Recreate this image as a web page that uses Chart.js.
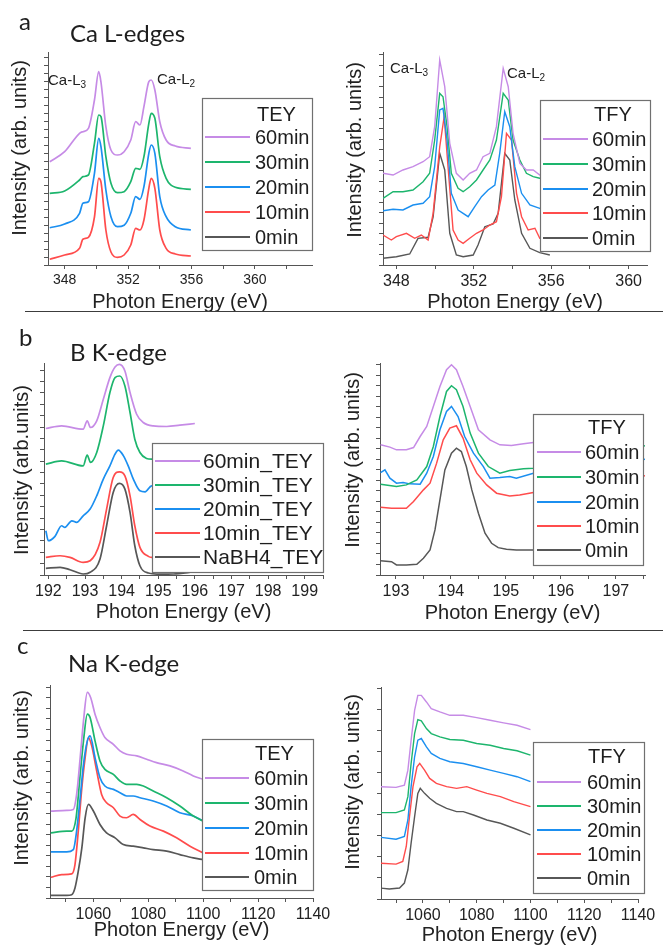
<!DOCTYPE html>
<html>
<head>
<meta charset="utf-8">
<script src="https://cdn.jsdelivr.net/npm/chart.js@4.4.1/dist/chart.umd.min.js"></script>
<style>
  html, body { margin: 0; padding: 0; background: #fff; }
  #page { position: relative; width: 663px; height: 949px; overflow: hidden; background: #fff; }
  canvas.panel { position: absolute; left: 0; top: 0; }
  .lbl { position: absolute; font-family: Lato, "Open Sans", sans-serif; color: #1e1e1e; white-space: nowrap; }
  .ann { position: absolute; font-family: "Liberation Sans", Arial, sans-serif; font-size: 15px; line-height: 18px; color: #222; white-space: nowrap; }
  .ann sub { font-size: 10px; vertical-align: -3px; line-height: 0; }
  .sep { position: absolute; height: 0; border-top: 1.5px solid #3c3c3c; }
</style>
</head>
<body>
<div id="page">
  <canvas class="panel" id="cA1" width="663" height="949"></canvas>
  <canvas class="panel" id="cA2" width="663" height="949"></canvas>
  <canvas class="panel" id="cB1" width="663" height="949"></canvas>
  <canvas class="panel" id="cB2" width="663" height="949"></canvas>
  <canvas class="panel" id="cC1" width="663" height="949"></canvas>
  <canvas class="panel" id="cC2" width="663" height="949"></canvas>

  <div class="lbl" style="left:19px; top:6px; font-size:24px; line-height:30px;">a</div>
  <div class="lbl" style="left:70px; top:18px; font-size:24px; line-height:30px;">Ca L-edges</div>
  <div class="lbl" style="left:19px; top:322px; font-size:24px; line-height:30px;">b</div>
  <div class="lbl" style="left:70px; top:337px; font-size:24px; line-height:30px;">B K-edge</div>
  <div class="lbl" style="left:17px; top:630px; font-size:24px; line-height:30px;">c</div>
  <div class="lbl" style="left:68px; top:648px; font-size:24px; line-height:30px;">Na K-edge</div>

  <div class="ann" style="left:48px; top:71px;">Ca-L<sub>3</sub></div>
  <div class="ann" style="left:157px; top:70px;">Ca-L<sub>2</sub></div>
  <div class="ann" style="left:390px; top:59px;">Ca-L<sub>3</sub></div>
  <div class="ann" style="left:507px; top:64px;">Ca-L<sub>2</sub></div>

  <div class="sep" style="left:25px; width:638px; top:311px;"></div>
  <div class="sep" style="left:23px; width:640px; top:630px;"></div>
</div>
<script>
// ---------------- DATA ----------------
// Panel a, Ca L-edges, TEY (x: photon energy eV, y: intensity, arb. units)
const caTEY_x = [347.06, 348.0, 348.94, 349.15, 349.5, 349.88, 350.15, 350.29, 350.6, 350.92, 351.33, 351.75, 352.17, 352.48, 352.75, 353.0, 353.31, 353.46, 353.69, 354.0, 354.4, 354.98, 355.96];
const caTEY_60min = [103.3, 113.3, 131.7, 133.3, 136.7, 165, 193.3, 183, 138.3, 115, 110, 113.3, 125, 143.3, 140, 158.3, 183.3, 185, 175, 143.3, 125, 119, 116.7];
const caTEY_30min = [71.7, 74, 85, 88.3, 90, 121.7, 150, 148.3, 108.3, 81.7, 72.3, 73.3, 83.3, 96.7, 95.7, 108.3, 141.7, 151.7, 146.7, 108.3, 86.7, 77.7, 75.7];
const caTEY_20min = [37.3, 41, 51.7, 61.7, 63.3, 91.7, 126.7, 118.3, 75, 48.3, 38.3, 39.7, 51.7, 68.3, 65.7, 78.3, 111.7, 120, 111.7, 68.3, 48.3, 38.3, 35];
const caTEY_10min = [5.7, 10, 16.7, 25.7, 27.7, 48, 86.7, 83, 35, 13, 7.7, 10, 20, 36.7, 35, 45, 76.7, 86.7, 76.7, 35, 16.7, 11, 9];
const caTEY_0min = []; // hidden behind the other curves in the reference

// Panel a, Ca L-edges, TFY
const caTFY_60min_x = [347.31, 347.83, 348.34, 348.86, 349.38, 349.72, 349.98, 350.24, 350.5, 350.76, 351.1, 351.45, 351.79, 352.14, 352.48, 352.83, 353.17, 353.52, 353.78, 354.03, 354.38, 354.72, 355.07, 355.41, 355.93];
const caTFY_60min_y = [91.7, 90, 95, 98.3, 103.3, 108.3, 138.3, 205, 178.3, 121.7, 91.7, 85, 91.7, 95, 108.3, 111.7, 138.3, 196.7, 178.3, 131.7, 101.7, 95, 95, 90, 90];
const caTFY_30min_x = [347.31, 347.83, 348.34, 348.86, 349.38, 349.72, 349.98, 350.24, 350.41, 350.62, 350.84, 351.19, 351.45, 351.79, 352.14, 352.48, 352.83, 353.17, 353.52, 353.78, 354.03, 354.38, 354.72, 355.07, 355.41, 355.93];
const caTFY_30min_y = [66.7, 73.3, 73.3, 75, 83.3, 91.7, 125, 171.7, 168.3, 138.3, 91.7, 76.7, 73.3, 78.3, 85, 95, 105, 125, 171.7, 165, 125, 105, 91.7, 88.3, 86.7, 86];
const caTFY_20min_x = [347.31, 347.83, 348.34, 348.86, 349.38, 349.72, 349.98, 350.24, 350.41, 350.62, 350.84, 351.19, 351.45, 351.71, 352.05, 352.4, 352.74, 353.09, 353.34, 353.6, 353.86, 354.12, 354.47, 354.9, 355.41, 355.93];
const caTFY_20min_y = [54.3, 55.7, 55, 60, 61.7, 68.3, 98.3, 155, 156.7, 125, 71.7, 55, 51.7, 48.3, 58.3, 68.3, 75, 80, 111.7, 153.3, 138.3, 98.3, 71.7, 60, 56.7, 55];
const caTFY_10min_x = [347.31, 347.74, 348, 348.52, 348.95, 349.29, 349.64, 349.9, 350.24, 350.47, 350.67, 350.93, 351.19, 351.45, 351.79, 352.14, 352.48, 352.83, 353.17, 353.43, 353.69, 353.95, 354.21, 354.47, 354.81, 355.16, 355.41, 355.93];
const caTFY_10min_y = [30, 25, 28.3, 31.7, 26.7, 30, 25, 51.7, 118, 148.3, 98.3, 35, 25, 21.7, 26.7, 31.7, 35, 40, 43.3, 68.3, 131.7, 125, 71.7, 48.3, 35, 36.7, 26.7, 28];
const caTFY_0min_x = [347.31, 348, 348.69, 349.12, 349.64, 349.9, 350.24, 350.5, 350.76, 351.1, 351.45, 351.97, 352.22, 352.57, 353, 353.26, 353.6, 353.86, 354.12, 354.47, 354.9, 355.41, 355.93];
const caTFY_0min_y = [6.7, 8.3, 11, 26.7, 27.7, 48, 111.7, 95, 31.7, 10, 8.3, 10, 20, 38.3, 41, 51.7, 111.7, 105, 65, 31.7, 16.7, 12.3, 10];

// Panel b, B K-edge, TEY
const bTEY_60min_x = [191.93, 192.36, 192.95, 193.06, 193.15, 193.32, 193.5, 193.68, 193.82, 193.94, 194.09, 194.23, 194.41, 194.59, 194.86, 195.23, 195.59, 196];
const bTEY_60min_y = [146.7, 149.3, 146, 154.3, 147.7, 154.3, 176, 197.7, 208.3, 211, 204.3, 182.7, 161, 152.7, 149.3, 148.7, 150, 151.7];
const bTEY_30min_x = [191.93, 192.36, 192.95, 193.06, 193.15, 193.32, 193.5, 193.68, 193.82, 193.95, 194.09, 194.23, 194.36, 194.5, 194.68, 194.82, 196];
const bTEY_30min_y = [111, 114.3, 109.3, 120, 112.7, 122.7, 149.3, 182.7, 197.7, 199.3, 189.3, 162.7, 136, 122.7, 116.7, 116, 116];
const bTEY_20min_x = [191.93, 192, 192.18, 192.36, 192.45, 192.64, 192.77, 192.95, 193.14, 193.32, 193.5, 193.68, 193.82, 193.91, 194.05, 194.18, 194.32, 194.5, 194.64, 194.82, 196];
const bTEY_20min_y = [44.3, 34.3, 38.7, 49.3, 47.7, 54.3, 52.7, 59.3, 66, 79.3, 96, 109.3, 121, 125, 119.3, 109.3, 96, 84.3, 83.3, 89.3, 90];
const bTEY_10min_x = [191.93, 192.32, 192.59, 192.95, 193.14, 193.41, 193.59, 193.77, 193.94, 194.09, 194.23, 194.36, 194.5, 194.73, 194.82, 196];
const bTEY_10min_y = [17.7, 19.3, 17.7, 12.7, 14.3, 32.7, 66, 97.7, 103.3, 99.3, 79.3, 49.3, 27.7, 18.7, 17.7, 17.7];
const bTEY_NaBH4_x = [191.93, 192.32, 192.59, 192.95, 193.14, 193.41, 193.59, 193.77, 193.94, 194.09, 194.23, 194.36, 194.5, 194.73, 195.05, 195.41, 196];
const bTEY_NaBH4_y = [6.7, 7.7, 5.3, 1, 2.7, 16, 49.3, 82.7, 91.7, 86, 62.7, 29.3, 9.3, 2, 0.8, 1, 3.3];

// Panel b, B K-edge, TFY
const bTFY_60min_x = [192.72, 192.89, 193.01, 193.19, 193.32, 193.44, 193.56, 193.68, 193.8, 193.92, 194.01, 194.1, 194.22, 194.35, 194.5, 194.71, 194.89, 195.1, 195.32, 195.5];
const bTFY_60min_y = [130, 127.7, 125, 125, 127.3, 138.3, 148.3, 168.3, 188.3, 205, 210, 205, 188.3, 168.3, 145, 135, 130, 129.3, 131, 132.3];
const bTFY_30min_x = [192.72, 193.01, 193.19, 193.38, 193.56, 193.68, 193.8, 193.92, 194.01, 194.1, 194.22, 194.35, 194.5, 194.68, 194.89, 195.07, 195.32, 195.5, 197.53];
const bTFY_30min_y = [90.7, 88.3, 90, 95, 108.3, 128.3, 158.3, 183.3, 189, 185, 168.3, 141.7, 121.7, 108.3, 101.7, 104.3, 106, 106.7, 129];
const bTFY_20min_x = [192.72, 192.8, 192.89, 193.01, 193.13, 193.25, 193.44, 193.56, 193.68, 193.8, 193.92, 194.01, 194.13, 194.25, 194.41, 194.59, 194.71, 194.89, 195.07, 195.19, 195.5, 197.53];
const bTFY_20min_y = [102.3, 105, 96.7, 91.7, 92.3, 91, 90.7, 101.7, 118.3, 145, 163.3, 168.3, 158.3, 138.3, 121.7, 108.3, 96.7, 97.3, 98.3, 96.7, 101.7, 115.7];
const bTFY_10min_x = [192.72, 192.92, 193.19, 193.32, 193.5, 193.62, 193.74, 193.86, 193.98, 194.1, 194.22, 194.35, 194.47, 194.65, 194.83, 195.07, 195.25, 195.5, 197.53];
const bTFY_10min_y = [67.7, 66.7, 66.7, 73.3, 85, 91.7, 111.7, 135, 146.7, 149, 136.7, 115, 101.7, 90, 81.7, 79, 80, 82.3, 99];
const bTFY_0min_x = [192.72, 192.92, 193.01, 193.19, 193.38, 193.5, 193.62, 193.71, 193.8, 193.89, 194.01, 194.1, 194.19, 194.28, 194.38, 194.5, 194.62, 194.74, 194.86, 195.01, 195.19, 195.44, 196.0];
const bTFY_0min_y = [14.3, 13.3, 10, 10, 10.7, 16.7, 25, 45, 75, 105, 121.7, 126.7, 123.3, 108.3, 85, 61.7, 41.7, 31.7, 27.3, 25.7, 25, 25, 25];

// Panel c, Na K-edge, TEY
const naTEY_60min_x = [1044.5, 1050.3, 1052.7, 1053.9, 1055.2, 1056.4, 1057.8, 1059, 1060.6, 1062.4, 1064.2, 1067.3, 1069.7, 1072.1, 1075.8, 1079.4, 1083, 1087.9, 1092.7, 1096.4, 1100];
const naTEY_60min_y = [86.7, 87.3, 88.3, 103.3, 140, 176.7, 205, 200, 183.3, 170, 160, 153.3, 146.7, 143.3, 141.7, 138.3, 135, 131.7, 126.7, 121.7, 118.3];
const naTEY_30min_x = [1044.5, 1050.3, 1052.1, 1053.7, 1055.2, 1056.4, 1057.8, 1058.8, 1060.6, 1062.4, 1064.2, 1067.3, 1069.7, 1072.1, 1075.8, 1078.2, 1081.8, 1086.7, 1091.5, 1096.4, 1100];
const naTEY_30min_y = [65, 66.7, 66.7, 80, 123.3, 156.7, 183.3, 180, 156.7, 136.7, 128.3, 123.3, 116.7, 113.3, 113.3, 111.7, 106.7, 100, 91.7, 81.7, 76.7];
const naTEY_20min_x = [1044.5, 1050.3, 1052.7, 1053.9, 1055.2, 1056.4, 1057.8, 1058.8, 1060.6, 1062.4, 1064.2, 1067.3, 1069.7, 1072.1, 1074.5, 1077, 1081.8, 1086.7, 1091.5, 1096.4, 1100];
const naTEY_20min_y = [46, 46, 48.3, 66.7, 100, 133.3, 156.7, 161.7, 140, 120, 111.7, 108.3, 105, 101.7, 101.7, 100, 96.7, 91.7, 85, 81.7, 76.7];
const naTEY_10min_x = [1044.5, 1048.5, 1052.1, 1053.3, 1054.5, 1055.8, 1057, 1058.2, 1059.4, 1061.2, 1063, 1064.8, 1067.3, 1069.7, 1072.1, 1074.5, 1077, 1080.6, 1085.5, 1090.3, 1095.2, 1100];
const naTEY_10min_y = [20.7, 23.3, 24, 33.3, 66.7, 110, 140, 160, 151.7, 126.7, 103.3, 95, 90, 81.7, 80, 83.3, 78.3, 71.7, 66.7, 60, 51.7, 45];
const naTEY_0min_x = [1044.5, 1050.3, 1052.1, 1053.3, 1054.5, 1055.8, 1057, 1058.2, 1060, 1062.4, 1064.8, 1067.9, 1070.9, 1074.5, 1078.2, 1081.8, 1086.7, 1091.5, 1096.4, 1100];
const naTEY_0min_y = [2.7, 2.7, 3.3, 10, 26.7, 50, 80, 93.3, 86.7, 73.3, 65, 60, 53.3, 51.7, 50, 48.3, 46.7, 43.3, 40, 38.3];

// Panel c, Na K-edge, TFY
const naTFY_x = [1044, 1050, 1053.1, 1054.4, 1055.6, 1056.9, 1058.1, 1059.4, 1061.3, 1063.1, 1066.3, 1070, 1075, 1080, 1085, 1090, 1095, 1100];
const naTFY_60min = [112.7, 112, 114.3, 129.3, 159.3, 189.3, 204.3, 204.3, 197.7, 191, 187.7, 184.3, 184.3, 182, 179.3, 176.7, 174.3, 170];
const naTFY_30min = [86.7, 86.7, 89.3, 102.7, 136, 166, 180, 178.7, 171, 166, 162.7, 160, 159.3, 156, 154.3, 151, 148.7, 144.3];
const naTFY_20min = [62, 60, 62.7, 79.3, 112.7, 142.7, 159.3, 161, 152.7, 146, 141, 137.7, 136, 132.7, 129.3, 126, 122.7, 117.7];
const naTFY_10min_x = [1044, 1050, 1052.5, 1053.8, 1055, 1056.3, 1057.8, 1058.8, 1060.6, 1062.5, 1065, 1068.8, 1072.5, 1076.3, 1080, 1083.8, 1088.8, 1093.8, 1100];
const naTFY_10min_y = [36, 35, 37.7, 52.7, 82.7, 112.7, 132.7, 136, 129.3, 121, 116, 112.7, 111, 112.7, 109.3, 106, 102.7, 97.7, 92.7];
const naTFY_0min_x = [1044, 1047.5, 1051.3, 1053.1, 1054.4, 1055.6, 1056.9, 1058.1, 1059, 1060.6, 1062.5, 1065, 1068.8, 1072.5, 1075, 1078.8, 1083.8, 1088.8, 1093.8, 1100];
const naTFY_0min_y = [11, 10, 11, 16, 29.3, 56, 82.7, 106, 111, 106, 101, 96, 91, 87.7, 87.7, 84.3, 79.3, 76, 71, 64.3];

// ---------------- STYLE / LAYOUT ----------------
const FONT = '"Liberation Sans", Arial, sans-serif';
const C60 = '#c68be6', C30 = '#1db56d', C20 = '#1b8ff0', C10 = '#ff4c4c', C0 = '#575757';

function series(xs, ys) { return xs.map((x, i) => ({ x: x, y: ys[i] })); }
function isMult(v, m) { const r = v / m; return Math.abs(r - Math.round(r)) < 1e-6; }

function makeLegend(spec) {
  return {
    id: 'boxLegend',
    afterDraw(chart) {
      const ctx = chart.ctx;
      ctx.save();
      const [x, y, w, h] = spec.box;
      ctx.fillStyle = '#ffffff';
      ctx.fillRect(x, y, w, h);
      ctx.strokeStyle = '#707070';
      ctx.lineWidth = 1.2;
      ctx.strokeRect(x + 0.5, y + 0.5, w, h);
      ctx.font = spec.fontSize + 'px ' + FONT;
      ctx.textBaseline = 'middle';
      ctx.textAlign = 'left';
      ctx.fillStyle = '#1e1e1e';
      if (spec.title) ctx.fillText(spec.title, spec.titlePos[0], spec.titlePos[1]);
      chart.data.datasets.forEach((ds, i) => {
        const ry = spec.rows[i];
        ctx.strokeStyle = ds.borderColor;
        ctx.lineWidth = 2;
        ctx.beginPath();
        ctx.moveTo(spec.lineX[0], ry);
        ctx.lineTo(spec.lineX[1], ry);
        ctx.stroke();
        ctx.fillStyle = '#1e1e1e';
        ctx.fillText(ds.label, spec.textX, ry + 1);
      });
      ctx.restore();
    }
  };
}

// rotated y-axis title drawn at the reference's position
function makeYTitle(text, cx, cy) {
  return {
    id: 'yTitle',
    afterDraw(chart) {
      const ctx = chart.ctx;
      ctx.save();
      ctx.translate(cx, cy);
      ctx.rotate(-Math.PI / 2);
      ctx.font = '20px ' + FONT;
      ctx.fillStyle = '#222';
      ctx.textAlign = 'center';
      ctx.textBaseline = 'middle';
      ctx.fillText(text, 0, 0);
      ctx.restore();
    }
  };
}

function makeChart(id, p) {
  const axisCol = '#555';
  return new Chart(document.getElementById(id), {
    type: 'line',
    data: {
      datasets: p.datasets.map(d => ({
        label: d.label,
        data: series(d.x, d.y),
        borderColor: d.color,
        backgroundColor: d.color,
        borderWidth: p.lw,
        pointRadius: 0,
        fill: false,
        cubicInterpolationMode: p.smooth ? 'monotone' : 'default',
        tension: 0
      }))
    },
    options: {
      responsive: false,
      animation: false,
      events: [],
      layout: { padding: { left: p.yTitleX - 12, top: p.area[1], right: 663 - p.area[2], bottom: 949 - (p.xTitleY + 12) } },
      plugins: { legend: { display: false }, tooltip: { enabled: false } },
      scales: {
        x: {
          type: 'linear', min: p.xMin, max: p.xMax,
          afterFit: s => { s.height = p.xTitleY + 12 - p.area[3]; },
          grid: { drawOnChartArea: false, drawTicks: true, tickLength: 4, tickColor: axisCol },
          border: { display: true, color: axisCol, width: 1 },
          ticks: {
            stepSize: p.xStep, includeBounds: false, autoSkip: false, maxRotation: 0, minRotation: 0,
            maxTicksLimit: 1000, padding: 3, color: '#222',
            font: { family: FONT, size: p.tickSize },
            callback: v => isMult(v, p.xLabelEvery) ? String(Math.round(v)) : ''
          },
          title: { display: true, text: 'Photon Energy (eV)', color: '#222', font: { family: FONT, size: 20 }, padding: { top: 0, bottom: 0 } }
        },
        y: {
          type: 'linear', min: 0, max: p.yMax,
          afterFit: s => { s.width = p.area[0] - (p.yTitleX - 12); },
          grid: { drawOnChartArea: false, drawTicks: true, tickLength: 4, tickColor: axisCol },
          border: { display: true, color: axisCol, width: 1 },
          ticks: { stepSize: p.yStep, includeBounds: false, autoSkip: false, maxTicksLimit: 1000, callback: () => '' },
          title: { display: false }
        }
      }
    },
    plugins: [makeLegend(p.legend), makeYTitle(p.yTitle, p.yTitleX, p.yTitleY)]
  });
}

const YT = 'Intensity (arb. units)';

// a - TEY
makeChart('cA1', {
  area: [48, 52, 312, 265], yTitleX: 20, yTitleY: 148, xTitleY: 302,
  xMin: 346.95, xMax: 363.6, xStep: 2, xLabelEvery: 4, tickSize: 14,
  yMax: 213, yStep: 8, yTitle: YT, lw: 1.7, smooth: true,
  datasets: [
    { label: '60min', color: C60, x: caTEY_x, y: caTEY_60min },
    { label: '30min', color: C30, x: caTEY_x, y: caTEY_30min },
    { label: '20min', color: C20, x: caTEY_x, y: caTEY_20min },
    { label: '10min', color: C10, x: caTEY_x, y: caTEY_10min },
    { label: '0min', color: C0, x: [], y: caTEY_0min }
  ],
  legend: { box: [202, 98, 110, 152], title: 'TEY', titlePos: [257, 115], rows: [137, 162, 187, 212, 237], lineX: [205, 250], textX: 255, fontSize: 20 }
});

// a - TFY
makeChart('cA2', {
  area: [383, 52, 647, 265], yTitleX: 355, yTitleY: 150, xTitleY: 302,
  xMin: 347.31, xMax: 360.95, xStep: 2, xLabelEvery: 4, tickSize: 16,
  yMax: 213, yStep: 10.5, yTitle: YT, lw: 1.4, smooth: false,
  datasets: [
    { label: '60min', color: C60, x: caTFY_60min_x, y: caTFY_60min_y },
    { label: '30min', color: C30, x: caTFY_30min_x, y: caTFY_30min_y },
    { label: '20min', color: C20, x: caTFY_20min_x, y: caTFY_20min_y },
    { label: '10min', color: C10, x: caTFY_10min_x, y: caTFY_10min_y },
    { label: '0min', color: C0, x: caTFY_0min_x, y: caTFY_0min_y }
  ],
  legend: { box: [540, 100, 110, 151], title: 'TFY', titlePos: [594, 115], rows: [139, 164, 189, 213, 238], lineX: [543, 588], textX: 592, fontSize: 20 }
});

// b - TEY
makeChart('cB1', {
  area: [44, 363, 323, 575], yTitleX: 22, yTitleY: 470, xTitleY: 612,
  xMin: 191.88, xMax: 199.5, xStep: 0.5, xLabelEvery: 1, tickSize: 16,
  yMax: 212.3, yStep: 11.4, yTitle: 'Intensity (arb.units)', lw: 1.7, smooth: true,
  datasets: [
    { label: '60min_TEY', color: C60, x: bTEY_60min_x, y: bTEY_60min_y },
    { label: '30min_TEY', color: C30, x: bTEY_30min_x, y: bTEY_30min_y },
    { label: '20min_TEY', color: C20, x: bTEY_20min_x, y: bTEY_20min_y },
    { label: '10min_TEY', color: C10, x: bTEY_10min_x, y: bTEY_10min_y },
    { label: 'NaBH4_TEY', color: C0, x: bTEY_NaBH4_x, y: bTEY_NaBH4_y }
  ],
  legend: { box: [152, 443, 171, 129], title: '', titlePos: [0, 0], rows: [461, 485, 509, 533, 557], lineX: [155, 200], textX: 203, fontSize: 21 }
});

// b - TFY
makeChart('cB2', {
  area: [380, 363, 645, 575], yTitleX: 353, yTitleY: 460, xTitleY: 613,
  xMin: 192.71, xMax: 197.53, xStep: 0.5, xLabelEvery: 1, tickSize: 16,
  yMax: 211.7, yStep: 10.5, yTitle: YT, lw: 1.5, smooth: false,
  datasets: [
    { label: '60min', color: C60, x: bTFY_60min_x, y: bTFY_60min_y },
    { label: '30min', color: C30, x: bTFY_30min_x, y: bTFY_30min_y },
    { label: '20min', color: C20, x: bTFY_20min_x, y: bTFY_20min_y },
    { label: '10min', color: C10, x: bTFY_10min_x, y: bTFY_10min_y },
    { label: '0min', color: C0, x: bTFY_0min_x, y: bTFY_0min_y }
  ],
  legend: { box: [533, 414, 110, 151], title: 'TFY', titlePos: [588, 428], rows: [452, 477, 502, 526, 550], lineX: [537, 581], textX: 585, fontSize: 20 }
});

// c - TEY
makeChart('cC1', {
  area: [50, 685, 313, 898], yTitleX: 22, yTitleY: 778, xTitleY: 930,
  xMin: 1044.2, xMax: 1140, xStep: 10, xLabelEvery: 20, tickSize: 16,
  yMax: 212.4, yStep: 10.5, yTitle: YT, lw: 1.7, smooth: true,
  datasets: [
    { label: '60min', color: C60, x: naTEY_60min_x, y: naTEY_60min_y },
    { label: '30min', color: C30, x: naTEY_30min_x, y: naTEY_30min_y },
    { label: '20min', color: C20, x: naTEY_20min_x, y: naTEY_20min_y },
    { label: '10min', color: C10, x: naTEY_10min_x, y: naTEY_10min_y },
    { label: '0min', color: C0, x: naTEY_0min_x, y: naTEY_0min_y }
  ],
  legend: { box: [202, 739, 111, 151], title: 'TEY', titlePos: [255, 754], rows: [778, 803, 828, 853, 877], lineX: [205, 249], textX: 254, fontSize: 20 }
});

// c - TFY
makeChart('cC2', {
  area: [381, 687, 638, 899], yTitleX: 353, yTitleY: 782, xTitleY: 935,
  xMin: 1044.4, xMax: 1140, xStep: 10, xLabelEvery: 20, tickSize: 16,
  yMax: 212.7, yStep: 21.1, yTitle: YT, lw: 1.4, smooth: false,
  datasets: [
    { label: '60min', color: C60, x: naTFY_x, y: naTFY_60min },
    { label: '30min', color: C30, x: naTFY_x, y: naTFY_30min },
    { label: '20min', color: C20, x: naTFY_x, y: naTFY_20min },
    { label: '10min', color: C10, x: naTFY_10min_x, y: naTFY_10min_y },
    { label: '0min', color: C0, x: naTFY_0min_x, y: naTFY_0min_y }
  ],
  legend: { box: [533, 742, 111, 151], title: 'TFY', titlePos: [588, 757], rows: [782, 806, 830, 854, 878], lineX: [537, 581], textX: 587, fontSize: 20 }
});
</script>
</body>
</html>
